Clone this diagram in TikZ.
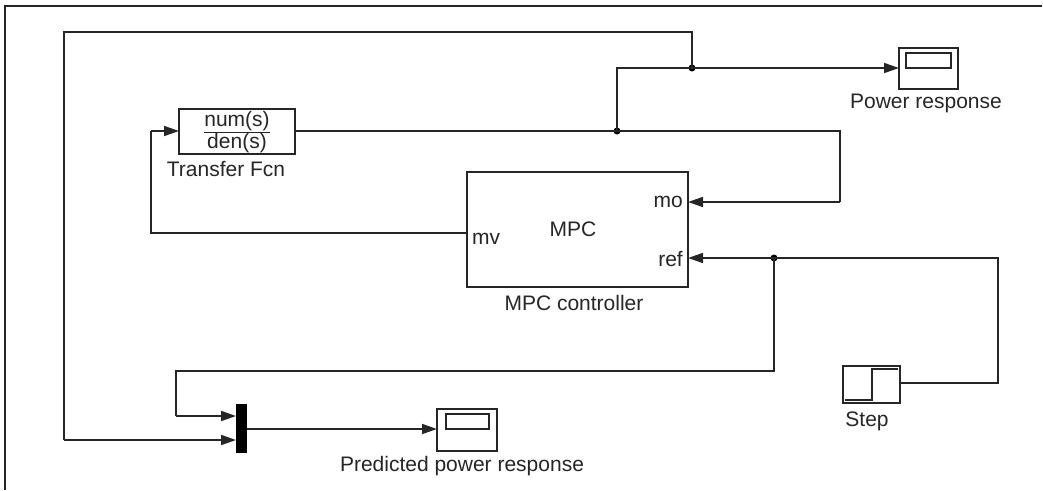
\documentclass[tikz,border=0pt]{standalone}
\usepackage{fontspec}
\setmainfont{Liberation Sans}
\usetikzlibrary{arrows.meta}
\begin{document}
\begin{tikzpicture}[x=1pt,y=-1pt,
  wire/.style={line width=1.7pt,draw=black!85},
  arr/.style={wire,-{Triangle[length=15pt,width=10pt]}},
  blk/.style={draw=black!85,line width=2.2pt,fill=white},
  lbl/.style={font=\fontsize{21}{22}\selectfont,text=black!85,inner sep=0pt},
  dot/.style={circle,fill=black,inner sep=0pt,minimum size=7pt}]
\useasboundingbox (0,0) rectangle (1043,490);
% frame
\draw[line width=1.7pt,black!85] (5,490) -- (5,6) -- (1042,6);
% blocks
\draw[blk] (179,109) rectangle (295,154);
\node[lbl,align=center,font=\fontsize{21}{19}\selectfont] (tf) at (237,132) {\underline{num(s)}\\den(s)};
\coordinate (tfin) at (179,131);
\coordinate (tfout) at (295,131);
\node[lbl] (tfl) at (226,169) {Transfer Fcn};

\draw[blk] (467,172) rectangle (688,287);
\node[lbl] (mpc) at (573,229) {MPC};
\node[lbl,anchor=east] (mo) at (683,202) {mo};
\node[lbl,anchor=east] (ref) at (683,259) {ref};
\node[lbl,anchor=west] (mv) at (472,239) {mv};
\coordinate (mvout) at (467,233);
\coordinate (moin) at (688,202);
\coordinate (refin) at (688,258);
\node[lbl] (mpcl) at (574,303) {MPC controller};

% power scope
\draw[blk] (899,48) rectangle (958,89);
\draw[line width=1.7pt,black!85] (906,53) rectangle (951,68);
\coordinate (psin) at (899,68);
\node[lbl] (psl) at (926,103) {Power response};

% predicted scope
\draw[blk] (437,409) rectangle (497,451);
\draw[line width=1.7pt,black!85] (446,414) rectangle (489,429);
\coordinate (ppin) at (437,429);
\node[lbl] (ppl) at (462,466) {Predicted power response};

% step
\draw[blk] (843,366) rectangle (900,403);
\draw[line width=1.7pt,black!85] (845,400) -- (872,400) -- (872,369) -- (898,369);
\coordinate (stout) at (900,383);
\node[lbl] (stl) at (867,421) {Step};

% mux
\fill[black] (236,404) rectangle (247,453);
\coordinate (mux1) at (236,416);
\coordinate (mux2) at (236,440);
\coordinate (muxout) at (247,429);

% junctions
\node[dot] (j1) at (692,68) {};
\node[dot] (j2) at (617,131) {};
\node[dot] (j3) at (774,258) {};

% wires
\draw[wire] (tfout) -- (j2.center) -- (840,131) -- (840,202);
\draw[arr] (840,202) -- (moin);
\draw[wire] (j2.center) -- (617,68) -- (j1.center);
\draw[arr] (j1.center) -- (psin);
\draw[wire] (j1.center) -- (692,32) -- (64,32) -- (64,440);
\draw[arr] (64,440) -- (mux2);
\draw[wire] (mvout) -- (151,233) -- (151,131);
\draw[arr] (151,131) -- (tfin);
\draw[wire] (stout) -- (998,383) -- (998,258) -- (j3.center);
\draw[arr] (j3.center) -- (refin);
\draw[wire] (j3.center) -- (774,371) -- (176,371) -- (176,416);
\draw[arr] (176,416) -- (mux1);
\draw[arr] (muxout) -- (ppin);
\end{tikzpicture}
\end{document}
